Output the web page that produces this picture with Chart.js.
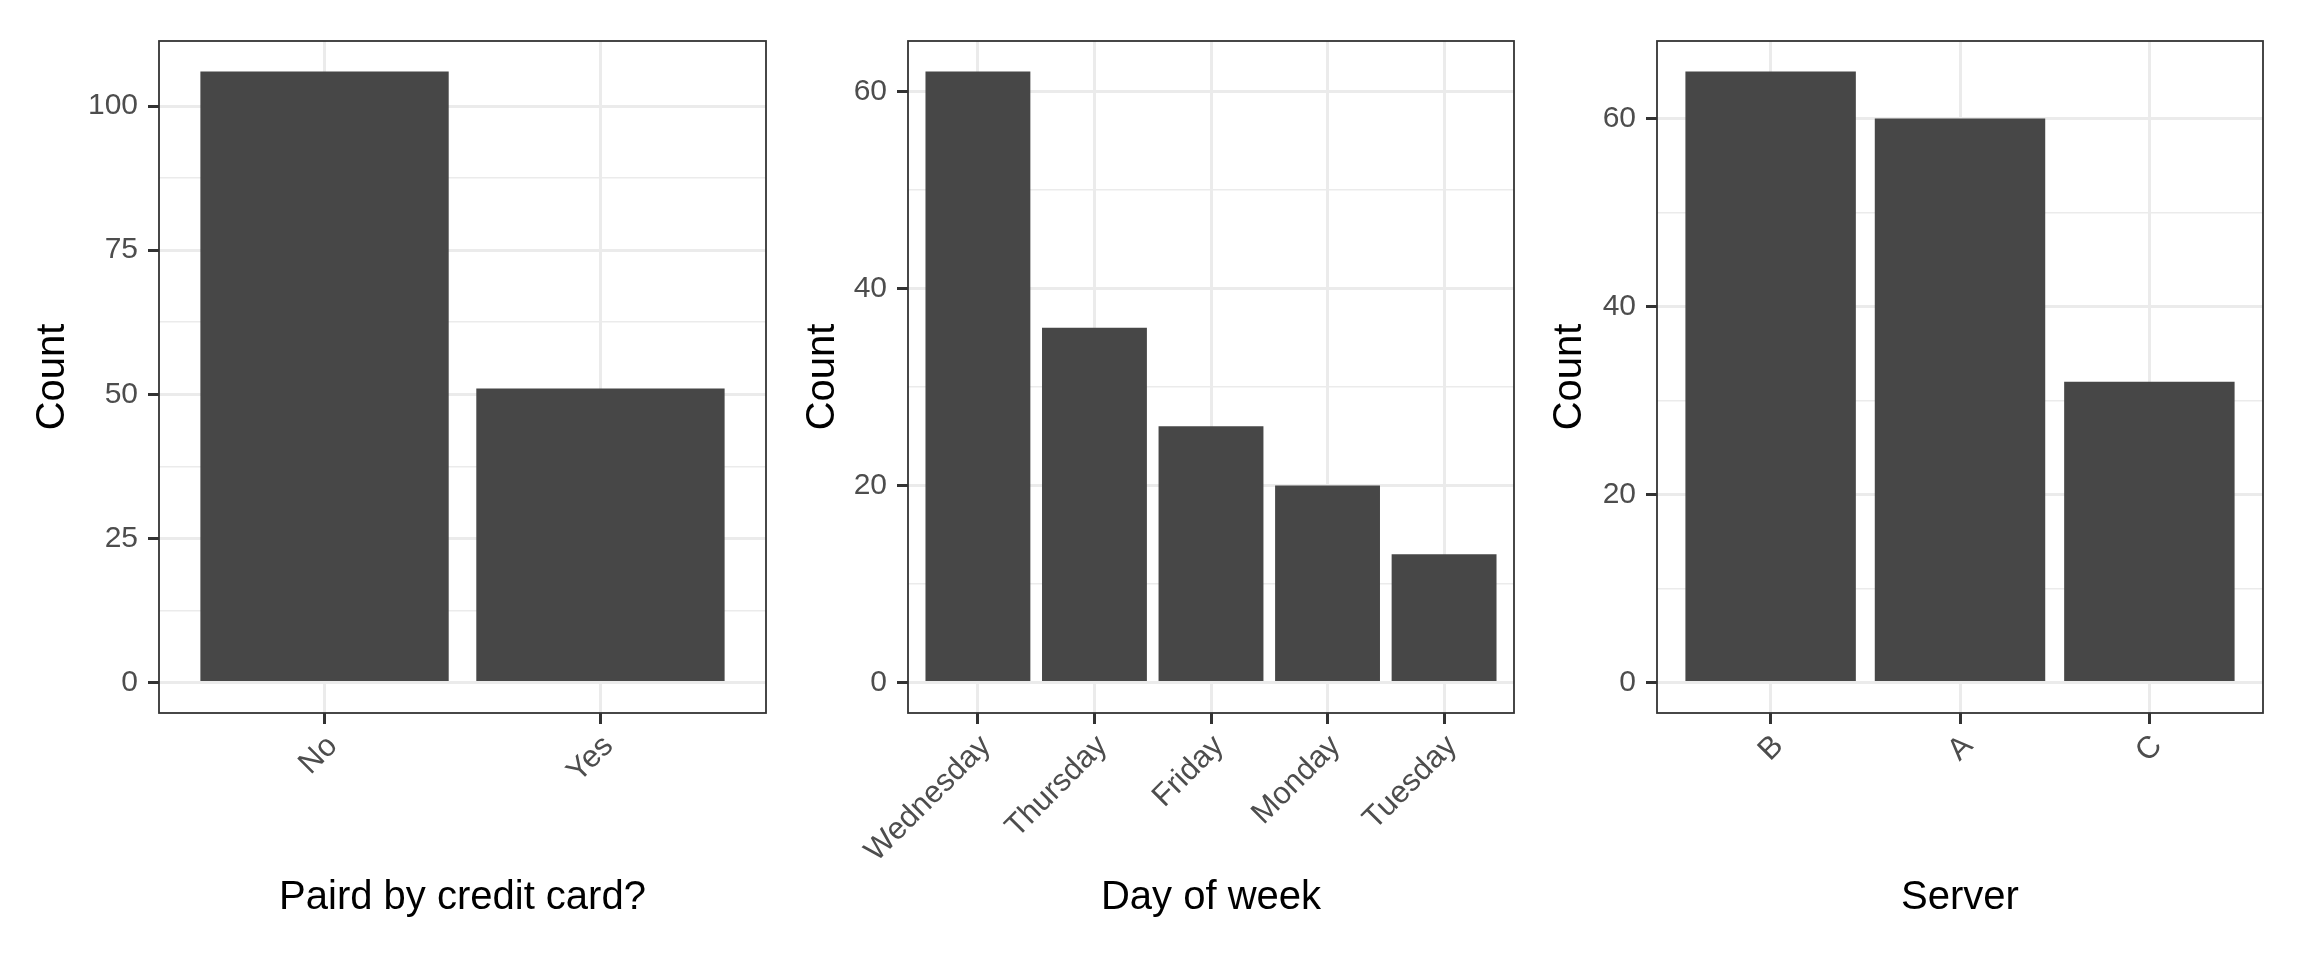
<!DOCTYPE html>
<html>
<head>
<meta charset="utf-8">
<script src="https://cdn.jsdelivr.net/npm/chart.js@4"></script>
<style>
  body { margin: 0; background: #ffffff; }
  canvas { position: absolute; top: 0; }
</style>
</head>
<body>
<canvas id="payChart" width="790" height="960" style="left:0px"></canvas>
<canvas id="dayChart" width="750" height="960" style="left:790px"></canvas>
<canvas id="serverChart" width="764" height="960" style="left:1540px"></canvas>
<script>
// counts per category
var payLabels = ["No", "Yes"];
var payCounts = [106, 51];
var payTicks = [0, 25, 50, 75, 100];
var payMinor = [12.5, 37.5, 62.5, 87.5];

var dayLabels = ["Wednesday", "Thursday", "Friday", "Monday", "Tuesday"];
var dayCounts = [62, 36, 26, 20, 13];
var dayTicks = [0, 20, 40, 60];
var dayMinor = [10, 30, 50];

var serverLabels = ["B", "A", "C"];
var serverCounts = [65, 60, 32];
var serverTicks = [0, 20, 40, 60];
var serverMinor = [10, 30, 50];

var FONT = "'Liberation Sans', Arial, Helvetica, sans-serif";

// ggplot style panel border drawn on top
var panelBorder = {
  id: "panelBorder",
  afterDraw: function(chart) {
    var a = chart.chartArea, ctx = chart.ctx;
    ctx.save();
    ctx.strokeStyle = "#333333";
    ctx.lineWidth = 1.8;
    ctx.strokeRect(a.left, a.top, a.right - a.left, a.bottom - a.top);
    ctx.restore();
  }
};

function makePanel(id, labels, counts, major, minor, xTitle, yWidth, yTitlePad, rightPad) {
  var pts = counts.map(function(v, i) { return { x: i + 1, y: v }; });
  var top = Math.max.apply(null, counts);
  var allTicks = major.concat(minor).sort(function(a, b) { return a - b; });
  var isMajor = function(v) { return major.indexOf(v) >= 0; };

  return new Chart(document.getElementById(id), {
    type: "bar",
    data: {
      datasets: [{
        data: pts,
        backgroundColor: "#474747",
        borderWidth: 0,
        categoryPercentage: 0.9,
        barPercentage: 1
      }]
    },
    options: {
      responsive: false,
      animation: false,
      layout: { padding: { top: 41, right: rightPad, left: 0, bottom: 0 } },
      plugins: { legend: { display: false }, tooltip: { enabled: false } },
      scales: {
        x: {
          type: "linear",
          offset: false,
          min: 0.4,
          max: labels.length + 0.6,
          afterBuildTicks: function(s) {
            s.ticks = labels.map(function(l, i) { return { value: i + 1 }; });
          },
          afterFit: function(s) { s.height = 247; },
          grid: { offset: false, color: "#EBEBEB", lineWidth: 3, tickLength: 11, tickColor: "#333333", tickWidth: 3 },
          border: { display: false },
          ticks: {
            autoSkip: false,
            minRotation: 45,
            maxRotation: 45,
            padding: 4,
            labelOffset: 8,
            color: "#4D4D4D",
            font: { family: FONT, size: 31 },
            callback: function(v) { return labels[v - 1]; }
          },
          title: {
            display: true,
            text: xTitle,
            color: "#000000",
            font: { family: FONT, size: 40 },
            padding: { top: 0, bottom: 38 }
          }
        },
        y: {
          min: -0.05 * top,
          max: top * 1.05,
          afterBuildTicks: function(s) {
            s.ticks = allTicks.map(function(v) { return { value: v }; });
          },
          afterFit: function(s) { s.width = yWidth; },
          grid: {
            color: "#EBEBEB",
            lineWidth: function(c) { return isMajor(c.tick.value) ? 3 : 1.5; },
            tickLength: 11,
            tickColor: function(c) { return isMajor(c.tick.value) ? "#333333" : "rgba(0,0,0,0)"; },
            tickWidth: 3
          },
          border: { display: false },
          ticks: {
            autoSkip: false,
            padding: 10,
            color: "#4D4D4D",
            font: { family: FONT, size: 30 },
            callback: function(v) { return isMajor(v) ? String(v) : ""; }
          },
          title: {
            display: true,
            text: "Count",
            color: "#000000",
            font: { family: FONT, size: 40 },
            padding: { top: yTitlePad, bottom: 0 }
          }
        }
      }
    },
    plugins: [panelBorder]
  });
}

makePanel("payChart", payLabels, payCounts, payTicks, payMinor, "Paird by credit card?", 159, 29, 24);
makePanel("dayChart", dayLabels, dayCounts, dayTicks, dayMinor, "Day of week", 118, 9, 26);
makePanel("serverChart", serverLabels, serverCounts, serverTicks, serverMinor, "Server", 117, 6, 41);
</script>
</body>
</html>
